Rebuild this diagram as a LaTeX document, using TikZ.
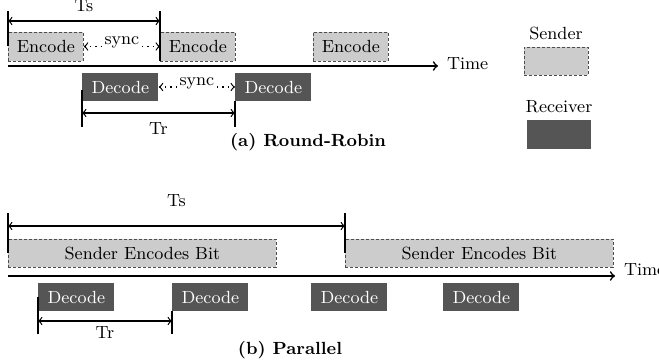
\documentclass[tikz,border=0pt]{standalone}
\usetikzlibrary{positioning}
\definecolor{sendgray}{RGB}{204,204,204}
\definecolor{recvgray}{RGB}{85,85,85}
\begin{document}
\begin{tikzpicture}[x=0.5pt, y=-0.5pt, font=\fontsize{8.8}{10}\selectfont]

    % Styles
    \tikzstyle{sender} = [rectangle, minimum width=37.5pt, minimum height=14.5pt, inner sep=0pt, text centered, draw=black!70, dash pattern=on 1.5pt off 1pt, fill=sendgray]
    \tikzstyle{senderlong} = [sender, minimum width=134pt, minimum height=14pt]
    \tikzstyle{receiver} = [rectangle, minimum width=38pt, minimum height=14pt, inner sep=0pt, text centered, fill=recvgray, text=white]
    \tikzstyle{arrow} = [semithick,<->,>=to]
    \tikzstyle{axis} = [thick,->,>=to]
    \tikzstyle{tick} = [semithick]
    \tikzstyle{sync} = [semithick,dotted,<->,>=to]
    \tikzstyle{synclabel} = [fill=white, inner sep=0.5pt, yshift=2pt]

    \useasboundingbox (0,0) rectangle (659,362);

    % (a) Round-Robin
    \node (enc-a1) [sender, anchor=west] at (8,46.5) {Encode};
    \node (enc-a2) [sender, anchor=west] at (160,46.5) {Encode};
    \node (enc-a3) [sender, anchor=west] at (313,46.5) {Encode};
    \node (dec-a1) [receiver, anchor=west] at (82,87) {Decode};
    \node (dec-a2) [receiver, anchor=west] at (235,87) {Decode};

    \coordinate (axis-a0) at (8,66);
    \coordinate (axis-a1) at (438,66);
    \node (time-a) [right=1pt of axis-a1, yshift=1pt] {Time};

    \coordinate (ts-a0) at (8,11);
    \coordinate (ts-a1) at (160,11);
    \coordinate (ts-al) at (8,21);
    \coordinate (ts-ar) at (160,21);
    \coordinate (tr-a0) at (82,127);
    \coordinate (tr-a1) at (235,127);
    \coordinate (tr-al) at (82,113);
    \coordinate (tr-ar) at (235,113);

    \node (title-a) [font=\fontsize{8.8}{10}\selectfont\bfseries] at (308,142) {(a) Round-Robin};

    % legend
    \node (leg-send) [sender, minimum width=32pt, minimum height=14pt] at (556,61) {};
    \node (leg-send-txt) [above=0pt of leg-send] {Sender};
    \node (leg-recv) [receiver, minimum width=32pt, minimum height=14.5pt] at (559,134.5) {};
    \node (leg-recv-txt) [above=0pt of leg-recv] {Receiver};

    % Arrows (a)
    \draw [axis] (axis-a0) -- (axis-a1);
    \draw [tick] (ts-a0) -- (enc-a1.west);
    \draw [tick] (ts-a1) -- (enc-a2.south west);
    \draw [arrow] (ts-al) -- node[above=1pt] {Ts} (ts-ar);
    \draw [sync] (enc-a1.east) -- node[synclabel] {sync} (enc-a2.west);
    \draw [sync] (dec-a1.east) -- node[synclabel] {sync} (dec-a2.west);
    \draw [tick] (dec-a1.west) ++(0,3) -- (tr-a0);
    \draw [tick] (dec-a2.south west) -- (tr-a1);
    \draw [arrow] (tr-al) -- node[below=1pt] {Tr} (tr-ar);

    % (b) Parallel
    \node (enc-b1) [senderlong, anchor=west] at (8,253) {Sender Encodes Bit};
    \node (enc-b2) [senderlong, anchor=west] at (345,253) {Sender Encodes Bit};
    \node (dec-b1) [receiver, anchor=west] at (38,297) {Decode};
    \node (dec-b2) [receiver, anchor=west] at (172,297) {Decode};
    \node (dec-b3) [receiver, anchor=west] at (311,297) {Decode};
    \node (dec-b4) [receiver, anchor=west] at (443,297) {Decode};

    \coordinate (axis-b0) at (8,276);
    \coordinate (axis-b1) at (615,276);
    \node (time-b) [right=1pt of axis-b1, yshift=3pt] {Time};

    \coordinate (ts-b0) at (8,213);
    \coordinate (ts-b1) at (345,213);
    \coordinate (ts-bl) at (8,226);
    \coordinate (ts-br) at (345,226);
    \coordinate (tr-b0) at (38,334);
    \coordinate (tr-b1) at (172,334);
    \coordinate (tr-bl) at (38,321);
    \coordinate (tr-br) at (172,321);

    \node (title-b) [font=\fontsize{8.8}{10}\selectfont\bfseries] at (290,350) {(b) Parallel};

    % Arrows (b)
    \draw [axis] (axis-b0) -- (axis-b1);
    \draw [tick] (ts-b0) -- (enc-b1.west);
    \draw [tick] (ts-b1) -- (enc-b2.west);
    \draw [arrow] (ts-bl) -- node[above=6pt] {Ts} (ts-br);
    \draw [tick] (dec-b1.west) -- (tr-b0);
    \draw [tick] (dec-b2.south west) -- (tr-b1);
    \draw [arrow] (tr-bl) -- node[below=-1pt] {Tr} (tr-br);

\end{tikzpicture}
\end{document}
